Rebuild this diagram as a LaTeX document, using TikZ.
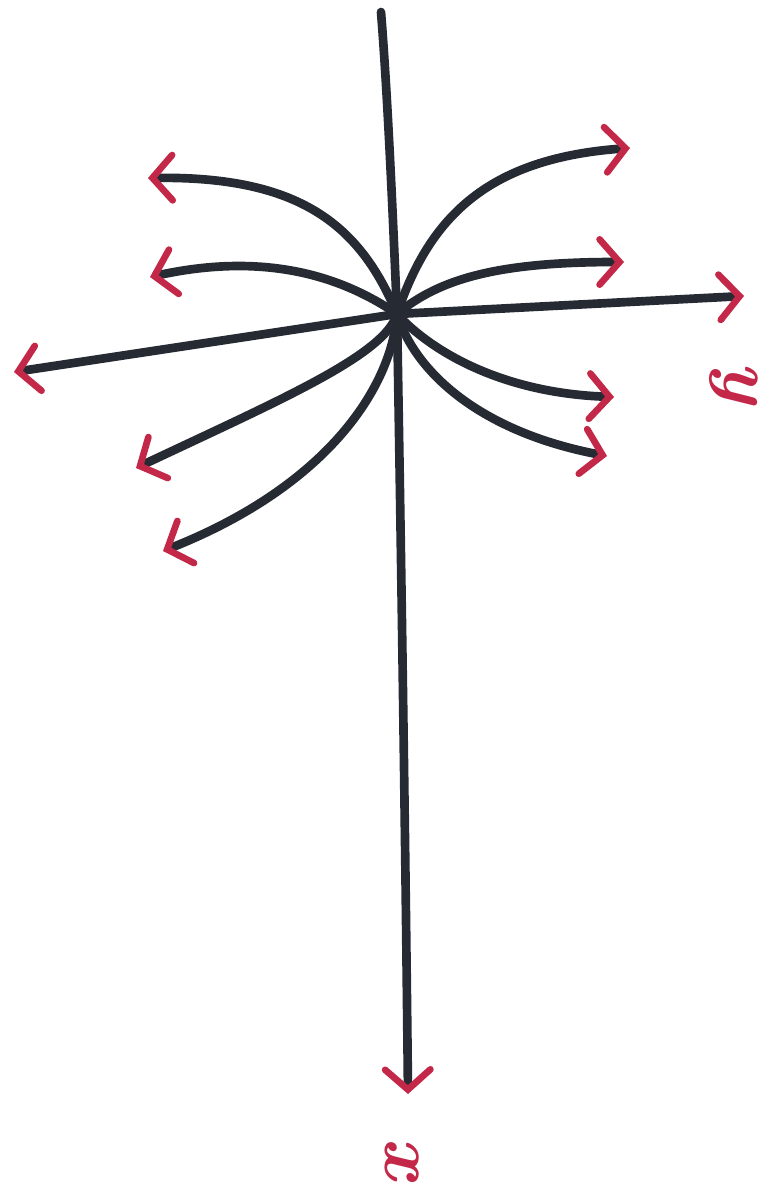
\documentclass[tikz,border=0pt]{standalone}
\usetikzlibrary{arrows.meta}
\definecolor{ink}{RGB}{38,42,50}
\definecolor{mred}{RGB}{196,40,72}
\begin{document}
\begin{tikzpicture}[x=0.75pt,y=-0.75pt,
  stroke/.style={draw=ink,line width=6.5pt,line cap=round},
  harrow/.style={-{Straight Barb[color=mred,length=15pt,width=34pt,line width=5pt,line cap=round]}},
  lbl/.style={text=mred,font=\fontsize{56}{56}\selectfont\bfseries\itshape,rotate=-90}]
\useasboundingbox[fill=white] (0,0) rectangle (783,1194);
\coordinate (O) at (397,314);
\coordinate (top) at (381,12);
\coordinate (xend) at (408,1094);
\coordinate (yend) at (744,296);
\coordinate (lend) at (14,372);
\coordinate (a1) at (148,178);
\coordinate (a2) at (150,277);
\coordinate (a3) at (630,148);
\coordinate (a4) at (624,262);
\coordinate (a5) at (614,397);
\coordinate (a6) at (607,456);
\coordinate (a7) at (136,468);
\coordinate (a8) at (163,551);
\draw[stroke] (top) .. controls (388,100) and (393,220) .. (O);
\draw[stroke,harrow] (O) .. controls (402,600) and (406,900) .. (xend);
\draw[stroke,harrow] (O) -- (yend);
\draw[stroke,harrow] (O) -- (lend);
\draw[stroke,harrow] (O) .. controls (360,225) and (300,176) .. (a1);
\draw[stroke,harrow] (O) .. controls (330,268) and (250,255) .. (a2);
\draw[stroke,harrow] (O) .. controls (430,215) and (490,158) .. (a3);
\draw[stroke,harrow] (O) .. controls (440,278) and (500,262) .. (a4);
\draw[stroke,harrow] (O) .. controls (430,350) and (500,393) .. (a5);
\draw[stroke,harrow] (O) .. controls (415,372) and (480,432) .. (a6);
\draw[stroke,harrow] (O) .. controls (385,355) and (280,400) .. (a7);
\draw[stroke,harrow] (O) .. controls (392,385) and (330,485) .. (a8);
\node[lbl] (ylab) at (734,382) {y};
\node[lbl] (xlab) at (402,1158) {x};
\end{tikzpicture}
\end{document}
